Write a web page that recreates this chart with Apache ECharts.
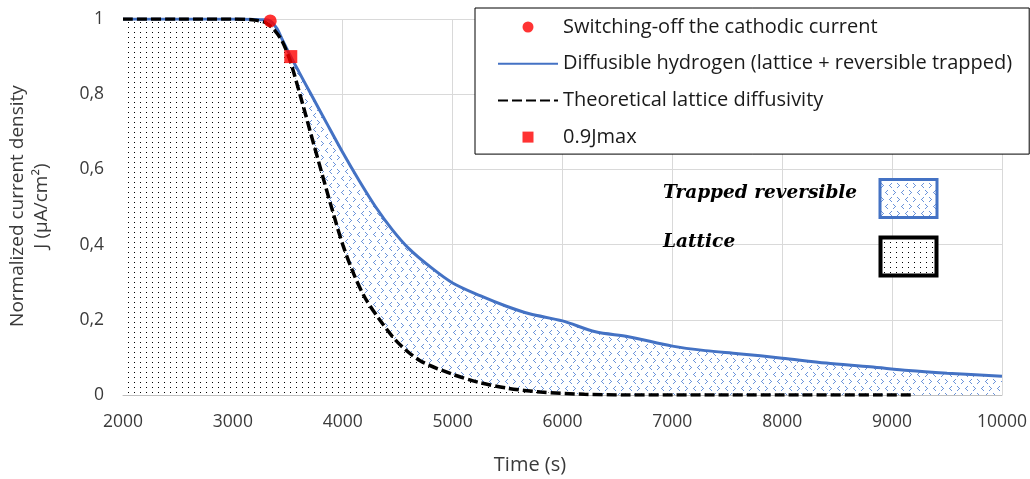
<!DOCTYPE html>
<html>
<head>
<meta charset="utf-8">
<script src="https://cdn.jsdelivr.net/npm/echarts@6/dist/echarts.min.js"></script>
<style>
html,body{margin:0;padding:0;background:#fff;}
#chart{width:1030px;height:479px;}
</style>
</head>
<body>
<div id="chart"></div>
<script>
// ---- data ----
const xTicks = [2000, 3000, 4000, 5000, 6000, 7000, 8000, 9000, 10000];
const yTicks = [0, 0.2, 0.4, 0.6, 0.8, 1];

const diffusibleTime = [2000, 2500, 3000, 3200, 3280, 3340, 3400, 3450, 3527, 3600, 3720, 3850, 4000, 4150, 4300, 4450, 4600, 4800, 5000, 5250, 5490, 5700, 6000, 6300, 6600, 7000, 7300, 7600, 8000, 8400, 8800, 9150, 9500, 10000];
const diffusibleJ    = [1, 1, 1, 0.999, 0.998, 0.995, 0.975, 0.945, 0.9, 0.86, 0.795, 0.725, 0.645, 0.57, 0.5, 0.44, 0.39, 0.34, 0.298, 0.264, 0.236, 0.216, 0.197, 0.168, 0.155, 0.13, 0.118, 0.11, 0.098, 0.085, 0.075, 0.065, 0.058, 0.05];

const latticeTime = [2000, 2500, 3000, 3200, 3300, 3380, 3450, 3520, 3610, 3700, 3800, 3900, 4000, 4100, 4200, 4336, 4500, 4700, 5000, 5245, 5500, 5800, 6200, 6600, 7000, 8000, 9200];
const latticeJ    = [1, 1, 1, 0.997, 0.99, 0.97, 0.94, 0.89, 0.8, 0.705, 0.6, 0.497, 0.4, 0.322, 0.26, 0.2, 0.14, 0.092, 0.055, 0.033, 0.018, 0.008, 0.002, 0, 0, 0, 0];

const switchOffPoint = [3340, 0.995];
const jmax09Point = [3527, 0.9];

const legendNames = [
  'Switching-off the cathodic current',
  'Diffusible hydrogen (lattice + reversible trapped)',
  'Theoretical lattice diffusivity',
  '0.9Jmax'
];
const regionLabels = ['Trapped reversible', 'Lattice'];

// ---- patterns ----
function dotCanvas() {
  const c = document.createElement('canvas');
  c.width = 6; c.height = 5;
  const g = c.getContext('2d');
  g.fillStyle = '#fff'; g.fillRect(0, 0, 6, 5);
  g.fillStyle = '#000'; g.fillRect(2, 2, 1, 1);
  return c;
}
function chevronCanvas() {
  const W = 16, H = 14;
  const c = document.createElement('canvas');
  c.width = W; c.height = H;
  const g = c.getContext('2d');
  g.fillStyle = '#fff'; g.fillRect(0, 0, W, H);
  g.fillStyle = '#6b93da';
  const right = (x, y) => [[x,y],[x+1,y+1],[x+2,y+2],[x+1,y+3],[x,y+4]].forEach(p => g.fillRect(p[0], p[1], 1, 1));
  const left  = (x, y) => [[x+2,y],[x+1,y+1],[x,y+2],[x+1,y+3],[x+2,y+4]].forEach(p => g.fillRect(p[0], p[1], 1, 1));
  right(1, 1); left(9, 1);
  left(5, 8); right(13, 8);
  return c;
}
const dotPattern = { image: dotCanvas(), repeat: 'repeat' };
const chevPattern = { image: chevronCanvas(), repeat: 'repeat' };

const diffData = diffusibleTime.map((t, i) => [t, diffusibleJ[i]]);
const latData = latticeTime.map((t, i) => [t, latticeJ[i]]);

const FONT = '"Open Sans", "Noto Sans", sans-serif';
const SMOOTH = 0.3;
const hideSym = { opacity: 0 };

const chart = echarts.init(document.getElementById('chart'), null, { renderer: 'canvas' });
chart.setOption({
  animation: false,
  backgroundColor: '#fff',
  grid: { left: 123, right: 27, top: 19, bottom: 84, containLabel: false },
  xAxis: {
    type: 'value', min: 2000, max: 10000, interval: 1000,
    axisLine: { show: true, lineStyle: { color: '#bfbfbf', width: 1 } },
    axisTick: { show: false },
    splitLine: { show: true, lineStyle: { color: '#d9d9d9', width: 1 } },
    axisLabel: { color: '#3a3a3a', fontFamily: FONT, fontSize: 17.5, margin: 18, formatter: v => String(v) }
  },
  yAxis: {
    type: 'value', min: 0, max: 1, interval: 0.2,
    axisLine: { show: false },
    axisTick: { show: false },
    splitLine: { show: true, lineStyle: { color: '#d9d9d9', width: 1 } },
    axisLabel: {
      color: '#3a3a3a', fontFamily: FONT, fontSize: 17.5, margin: 19,
      formatter: v => String(Math.round(v * 10) / 10).replace('.', ',')
    }
  },
  legend: {
    orient: 'vertical',
    left: 475, top: 8,
    padding: [8, 17, 6, 22],
    borderColor: '#000', borderWidth: 1,
    backgroundColor: '#fff',
    itemWidth: 60, itemHeight: 11, itemGap: 14.7,
    textStyle: { fontFamily: FONT, fontSize: 20, color: '#1a1a1a', lineHeight: 22 },
    data: [
      { name: legendNames[0], icon: 'circle' },
      { name: legendNames[1], itemStyle: hideSym },
      { name: legendNames[2], itemStyle: hideSym },
      { name: legendNames[3], icon: 'path://M0,0H10V10H0Z' }
    ],
    selectedMode: false
  },
  series: [
    {
      name: 'trapArea', type: 'line', data: diffData, smooth: SMOOTH,
      symbol: 'none', silent: true, z: 1,
      lineStyle: { width: 0, opacity: 0 },
      areaStyle: { color: chevPattern, opacity: 1 }
    },
    {
      name: 'latticeArea', type: 'line', data: latData, smooth: SMOOTH,
      symbol: 'none', silent: true, z: 2,
      lineStyle: { width: 0, opacity: 0 },
      areaStyle: { color: dotPattern, opacity: 1 }
    },
    {
      name: legendNames[1], type: 'line', data: diffData, smooth: SMOOTH,
      symbol: 'none', z: 3,
      itemStyle: { color: '#4472c4' },
      lineStyle: { color: '#4472c4', width: 3 }
    },
    {
      name: legendNames[2], type: 'line', data: latData, smooth: SMOOTH,
      symbol: 'none', z: 4,
      itemStyle: { color: '#000' },
      lineStyle: { color: '#000', width: 3.5, type: [10, 4] }
    },
    {
      name: legendNames[0], type: 'scatter', data: [switchOffPoint],
      symbol: 'circle', symbolSize: 13, z: 5,
      itemStyle: { color: '#ff0000' }
    },
    {
      name: legendNames[3], type: 'scatter', data: [jmax09Point],
      symbol: 'rect', symbolSize: 13, z: 5,
      itemStyle: { color: '#ff0000' }
    }
  ],
  graphic: [
    {
      type: 'text', left: 663, top: 184, z: 10,
      style: { text: regionLabels[0], font: 'italic bold 18.5px "DejaVu Serif", serif', fill: '#000' }
    },
    {
      type: 'text', left: 663, top: 233, z: 10,
      style: { text: regionLabels[1], font: 'italic bold 18.5px "DejaVu Serif", serif', fill: '#000' }
    },
    {
      type: 'rect', z: 10,
      shape: { x: 880, y: 179.5, width: 57, height: 38 },
      style: { fill: chevPattern, stroke: '#4472c4', lineWidth: 3 }
    },
    {
      type: 'rect', z: 10,
      shape: { x: 880.5, y: 237.5, width: 56, height: 38 },
      style: { fill: dotPattern, stroke: '#000', lineWidth: 4 }
    },
    {
      type: 'text', z: 10,
      x: 530, y: 465,
      style: { text: 'Time (s)', font: '20px ' + FONT, fill: '#3a3a3a', align: 'center', verticalAlign: 'middle' }
    },
    {
      type: 'text', z: 10,
      x: 30, y: 206, rotation: Math.PI / 2,
      style: { text: 'Normalized current density\nJ (μA/cm²)', font: '19px ' + FONT, fill: '#3a3a3a', align: 'center', verticalAlign: 'middle', lineHeight: 24 }
    }
  ]
});
</script>
</body>
</html>
